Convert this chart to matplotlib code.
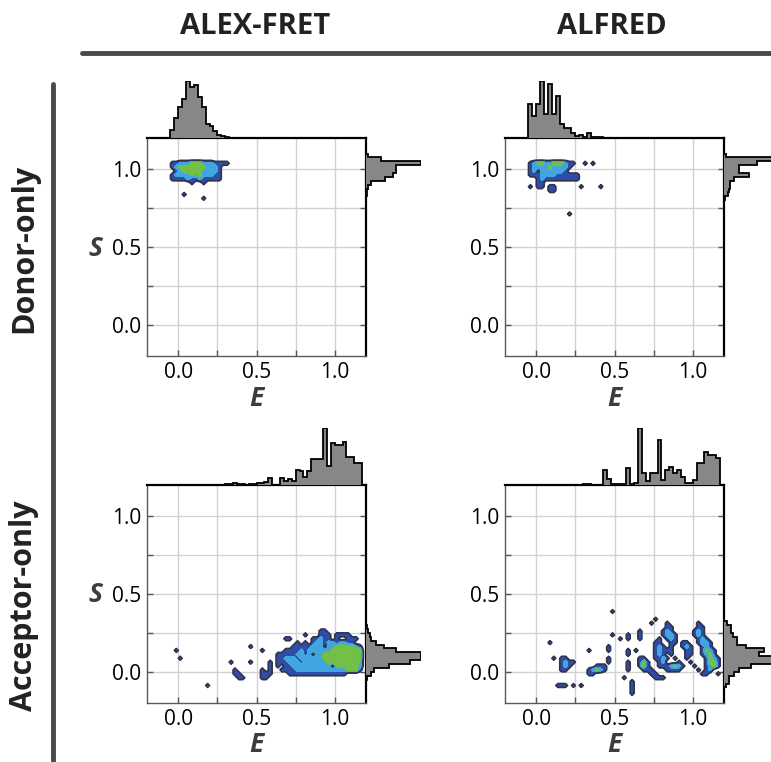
import numpy as np
import matplotlib.pyplot as plt
from matplotlib.lines import Line2D

plt.rcParams['font.family'] = ['Open Sans', 'DejaVu Sans']

W, H = 771, 762
BIN = 0.025

# ---------------- marginal histograms (bin width 0.025, first bin edge given) ----------------
# Donor-only / ALEX-FRET
tl_e_start = -0.05
tl_e_counts = [25, 60, 90, 115, 168, 150, 155, 120, 90, 40, 35, 20, 10, 6, 2]
tl_s_start = 0.825
tl_s_counts = [1, 1, 2, 5, 19, 27, 30, 30, 55, 15, 2]

# Donor-only / ALFRED
tr_e_start = -0.05
tr_e_counts = [100, 65, 100, 168, 70, 160, 70, 125, 40, 30, 30, 15, 5, 8, 2, 15, 2, 4, 4, 1]
tr_s_start = 0.8
tr_s_counts = [1, 4, 5, 7, 7, 11, 27, 16, 16, 36, 60, 2]

# Acceptor-only / ALEX-FRET
bl_e_start = 0.3
bl_e_counts = [2, 4, 6, 2, 4, 1, 3, 2, 6, 5, 8, 20, 1, 1, 20, 12, 18, 12, 45, 42,
               22, 42, 77, 77, 77, 167, 57, 122, 117, 117, 127, 82, 82, 65, 65]
bl_s_start = -0.05
bl_s_counts = [1, 5, 8, 23, 45, 56, 56, 31, 18, 10, 5, 4, 2, 1]

# Acceptor-only / ALFRED
br_e_start = 0.3
br_e_counts = [3, 3, 1, 1, 1, 45, 17, 2, 2, 2, 2, 50, 2, 7, 170, 35, 12, 35, 35, 135,
               15, 45, 55, 35, 45, 25, 5, 5, 15, 67, 67, 98, 90, 90, 80]
br_s_start = -0.1
br_s_counts = [2, 5, 5, 10, 15, 27, 52, 55, 35, 40, 22, 13, 13, 9, 7, 7, 3]

# ---------------- 2D density levels on 0.025 grid (0 empty .. 3 highest) ----------------
tl_grid_e0, tl_grid_stop = -0.075, 1.075
tl_grid = [
    "00000000000000000",
    "01122233322211110",
    "01233333332221000",
    "00123333322221000",
    "01222232322211000",
    "01111211211111000",
    "00000010010000000",
    "00000000000000000",
    "00000000000000000",
    "00001000000000000",
    "00000000010000000",
]

tr_grid_e0, tr_grid_stop = -0.075, 1.075
tr_grid = [
    "000000000000000000000",
    "012332233321100101000",
    "012222322221000000000",
    "012022222210000000000",
    "011122221111110000000",
    "000121111111110000000",
    "000110000000000000000",
    "010110110000001000010",
    "000000110000000000000",
    "000000000000000000000",
    "000000000000000000000",
    "000000000000000000000",
    "000000000000000000000",
    "000000000000000000000",
    "000000000001000000000",
    "000000000000000000000",
]

bl_grid_e0, bl_grid_stop = -0.05, 0.3
bl_grid = [
    "0000000000" "0000000000" "0000000000" "0000000000" "0000000000",
    "0000000000" "0000000000" "0000000000" "0000000011" "0000000000",
    "0000000000" "0000000000" "0000000000" "0000100011" "1011110000",
    "0000000000" "0000000000" "0000000001" "1000001121" "1010011100",
    "0000000000" "0000000000" "0000000000" "0010101221" "2212211000",
    "0000000000" "0000000000" "1000000000" "0111112220" "2233333210",
    "0100000000" "0000000000" "0001000001" "1112122222" "2333333330",
    "0000000000" "0000000000" "0000000111" "1122120223" "3333333330",
    "0010000000" "0000000000" "0000000112" "2212222223" "3333333330",
    "0000000000" "0000010000" "1000010111" "2221222222" "3333333320",
    "0000000000" "0000000000" "0000010101" "1222222222" "2033333320",
    "0000000000" "0000001000" "0001010011" "1122222222" "2222233310",
    "0000000000" "0000001100" "0001110000" "1111111111" "1111100000",
    "0000000000" "0000000110" "0001100000" "0000000000" "0000000000",
    "0000000000" "0000000000" "0000000000" "0000000000" "0000000000",
    "0000000001" "0000000000" "0000000000" "0000000000" "0000000000",
    "0000000000" "0000000000" "0000000000" "0000000000" "0000000000",
]

br_grid_e0, br_grid_stop = -0.05, 0.4
br_grid = [
    "0000000000" "0000000000" "0100000000" "0000000000" "0000000000",
    "0000000000" "0000000000" "0000000000" "0000000000" "0000000000",
    "0000000000" "0000000000" "0000000000" "0010000000" "0000000000",
    "0000000000" "0000000000" "0000000000" "0100010000" "0001000000",
    "0000000000" "0000000000" "0000000000" "0000011000" "0001100000",
    "0000000000" "0000000000" "0000000010" "0000121000" "0012100000",
    "0000000000" "0000000000" "0100010010" "0000122100" "0012100000",
    "0000000000" "0000000000" "0001010010" "0001012100" "0001210000",
    "0000010000" "0000000000" "0000000000" "0011001101" "1001221000",
    "0000000000" "0000000000" "1000000000" "0012101001" "2100121000",
    "0000000000" "0000010000" "1000010100" "0012111000" "1100132100",
    "0000000000" "0000000000" "0000010000" "0012101000" "1100123100",
    "0000001011" "0000000000" "1000000011" "0011210100" "1000013210",
    "0000000012" "1100000000" "1000010013" "1001200010" "0100013310",
    "0000000012" "1000000111" "0000010013" "1001112321" "0010012310",
    "0000000011" "0000012321" "0000010001" "1100011110" "0001012000",
    "0000000000" "0000011000" "0000000000" "0110000000" "0000110010",
    "0000000000" "0000000000" "0000100000" "0011100000" "0000000000",
    "0000000000" "0000000000" "0000001000" "0000000000" "0000000000",
    "0000000111" "0101000000" "0000001000" "0000000000" "0000000000",
    "0000000000" "0000000000" "0000001000" "0000000000" "0000000000",
    "0000000000" "0000000000" "0000001000" "0000000000" "0000000000",
    "0000000000" "0000000000" "0000000000" "0000000000" "0000000000",
]

col_titles = ['ALEX-FRET', 'ALFRED']
row_titles = ['Donor-only', 'Acceptor-only']
tick_vals = [0, 0.25, 0.5, 0.75, 1.0]
tick_labels = ['0.0', '', '0.5', '', '1.0']

fill_colors = ['#2d4da6', '#41a6e0', '#74c046']
hist_gray = '#878787'


def rect(x0, y0, x1, y1):
    return [x0 / W, 1 - y1 / H, (x1 - x0) / W, (y1 - y0) / H]


def draw_density(ax, rows, e0, s_top):
    ncol = max(len(r) for r in rows)
    Z = np.array([[int(c) for c in r.ljust(ncol, '0')] for r in rows], float)
    Z = np.pad(Z, 1)
    nr, nc = Z.shape
    ec = e0 + (np.arange(nc) - 0.5) * BIN
    sc = s_top - (np.arange(nr) - 0.5) * BIN
    Z = Z[::-1]
    sc = sc[::-1]
    ax.contourf(ec, sc, Z, levels=[0.5, 1.5, 2.5, 3.5], colors=fill_colors, zorder=2)
    ax.contour(ec, sc, Z, levels=[0.5], colors='#34344a', linewidths=1.2, zorder=3)


def draw_panel(box, e_start, e_counts, s_start, s_counts, grid, g_e0, g_stop):
    x0, y0, x1, y1 = box
    ax = fig.add_axes(rect(x0, y0, x1, y1))
    ax.set_xlim(-0.2, 1.2)
    ax.set_ylim(-0.2, 1.2)
    ax.set_xticks(tick_vals)
    ax.set_xticklabels(tick_labels)
    ax.set_yticks(tick_vals)
    ax.set_yticklabels(tick_labels)
    ax.grid(True, color='#d2d2d2', lw=1)
    ax.set_axisbelow(True)
    ax.tick_params(direction='in', length=4, width=1, color='#555555',
                   labelsize=15, right=True, pad=4)
    for s in ['left', 'bottom']:
        ax.spines[s].set_color('#5a5a5a')
        ax.spines[s].set_linewidth(1)
    for s in ['top', 'right']:
        ax.spines[s].set_color('black')
        ax.spines[s].set_linewidth(1.6)
    draw_density(ax, grid, g_e0, g_stop)

    # top marginal (E)
    axt = fig.add_axes(rect(x0, y0 - 57, x1, y0))
    edges = e_start + BIN * np.arange(len(e_counts) + 1)
    axt.stairs(e_counts, edges, fill=True, color=hist_gray)
    axt.stairs(e_counts, edges, color='black', lw=1.3)
    axt.set_xlim(-0.2, 1.2)
    axt.set_ylim(0, max(e_counts))
    axt.axis('off')

    # right marginal (S)
    axr = fig.add_axes(rect(x1, y0, x1 + 55, y1))
    edges = s_start + BIN * np.arange(len(s_counts) + 1)
    axr.stairs(s_counts, edges, orientation='horizontal', fill=True, color=hist_gray)
    axr.stairs(s_counts, edges, orientation='horizontal', color='black', lw=1.3)
    axr.set_ylim(-0.2, 1.2)
    axr.set_xlim(0, max(s_counts))
    axr.axis('off')
    return ax


fig = plt.figure(figsize=(W / 100, H / 100), dpi=100)

draw_panel((147, 138, 366, 356), tl_e_start, tl_e_counts, tl_s_start, tl_s_counts,
           tl_grid, tl_grid_e0, tl_grid_stop)
draw_panel((505, 138, 724, 356), tr_e_start, tr_e_counts, tr_s_start, tr_s_counts,
           tr_grid, tr_grid_e0, tr_grid_stop)
draw_panel((147, 485, 366, 703), bl_e_start, bl_e_counts, bl_s_start, bl_s_counts,
           bl_grid, bl_grid_e0, bl_grid_stop)
draw_panel((505, 485, 724, 703), br_e_start, br_e_counts, br_s_start, br_s_counts,
           br_grid, br_grid_e0, br_grid_stop)

# headers and separators
fig.text(255 / W, 1 - 27 / H, col_titles[0], ha='center', va='center',
         fontsize=21, fontweight='bold', color='#222222')
fig.text(612 / W, 1 - 27 / H, col_titles[1], ha='center', va='center',
         fontsize=21, fontweight='bold', color='#222222')
fig.text(24 / W, 1 - 248 / H, row_titles[0], ha='center', va='center', rotation=90,
         fontsize=22, fontweight='bold', color='#222222')
fig.text(24 / W, 1 - 606 / H, row_titles[1], ha='center', va='center', rotation=90,
         fontsize=22, fontweight='bold', color='#222222')
fig.add_artist(Line2D([82 / W, 1.0], [1 - 52.5 / H] * 2, lw=3.5, color='#4a4a4a',
                      solid_capstyle='round'))
fig.add_artist(Line2D([53 / W] * 2, [1 - 84 / H, 0.0], lw=3.5, color='#4a4a4a',
                      solid_capstyle='round'))

# axis letters
for yy in [249, 594]:
    fig.text(95 / W, 1 - yy / H, 'S', ha='center', va='center', fontsize=19,
             fontweight='bold', fontstyle='italic', color='#3d3d3d')
for xx in [256.5, 614.5]:
    for yy in [398, 745]:
        fig.text(xx / W, 1 - yy / H, 'E', ha='center', va='center', fontsize=19,
                 fontweight='bold', fontstyle='italic', color='#3d3d3d')

plt.savefig('out.png', dpi=100)
plt.close()
